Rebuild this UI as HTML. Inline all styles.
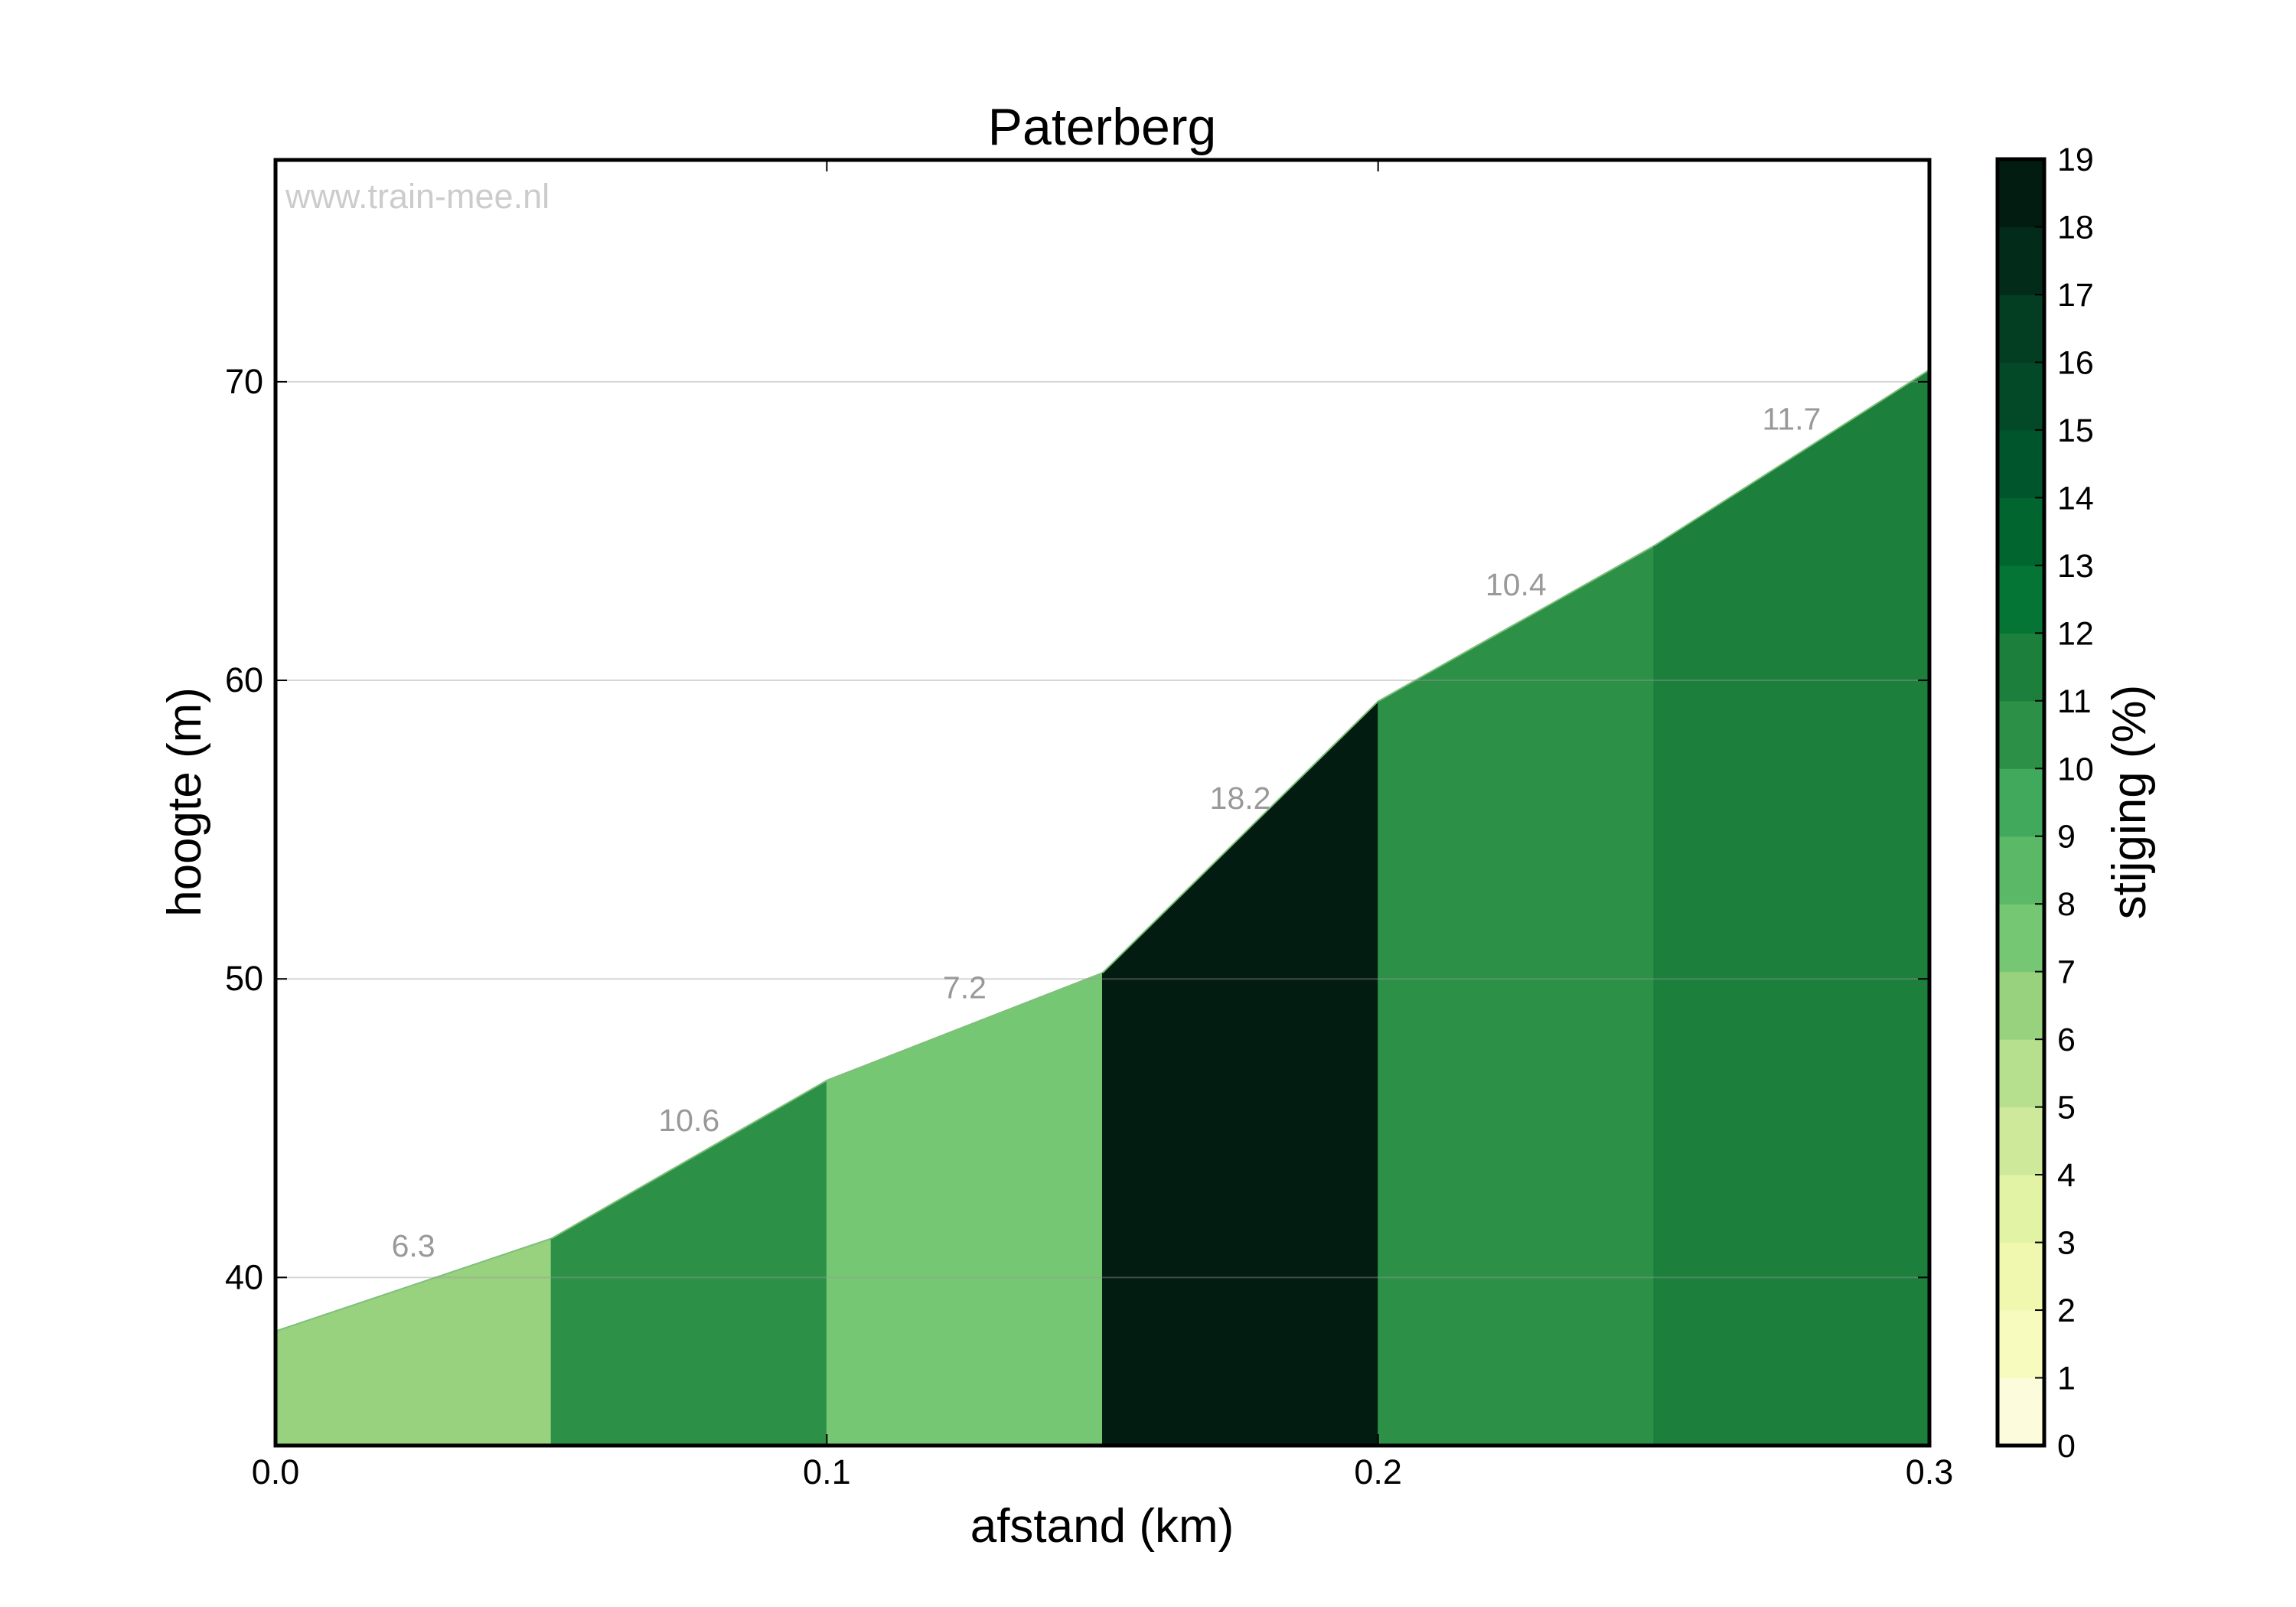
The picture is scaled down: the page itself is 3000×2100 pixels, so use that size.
<!DOCTYPE html>
<html><head><meta charset="utf-8"><style>
html,body{margin:0;padding:0;background:#fff;}
svg{display:block;font-family:"Liberation Sans",Arial,sans-serif;}
</style></head><body>
<svg id="chart" width="3000" height="2100" viewBox="0 0 3000 2100" xmlns="http://www.w3.org/2000/svg">
<rect width="3000" height="2100" fill="#fff"/>
<g id="plot"></g>
<g id="cbar"></g>
<text x="1440" y="189" font-size="68" text-anchor="middle" fill="#000">Paterberg</text>
<text x="373" y="272" font-size="45" fill="#cccccc">www.train-mee.nl</text>
<text x="1440" y="2015" font-size="62" text-anchor="middle" fill="#000">afstand (km)</text>
<text transform="translate(262,1048) rotate(-90)" font-size="62" text-anchor="middle" fill="#000">hoogte (m)</text>
<text transform="translate(2803,1048) rotate(-90)" font-size="62" text-anchor="middle" fill="#000">stijging (%)</text>
</svg>
<script>
const distances = [0, 0.05, 0.10, 0.15, 0.20, 0.25, 0.30];
const elevations = [38.2, 41.3, 46.6, 50.2, 59.3, 64.5, 70.4];
const grades = [6.3, 10.6, 7.2, 18.2, 10.4, 11.7];
const xTicks = [0, 0.1, 0.2, 0.3];
const xTickLabels = ["0.0", "0.1", "0.2", "0.3"];
const yTicks = [40, 50, 60, 70];
const yTickLabels = ["40", "50", "60", "70"];
const cbarTicks = [0,1,2,3,4,5,6,7,8,9,10,11,12,13,14,15,16,17,18,19];
const palette = ["#fcfcdc","#f7fbbd","#f0f8b0","#e3f3a5","#cfe99a","#b6df8e","#98d27e","#76c773","#5ab867","#41a95b","#2c9147","#1c7f3c","#047535","#00652f","#01552c","#034827","#033d22","#022c19","#031c12"];

const NS = "http://www.w3.org/2000/svg";
const L = 360, R = 2521, T = 209, B = 1889;
const X0 = 0, X1 = 0.3, Y0 = 34.37, Y1 = 77.43;
function xs(v){ return L + (v - X0) / (X1 - X0) * (R - L); }
function ys(v){ return B - (v - Y0) / (Y1 - Y0) * (B - T); }
function mk(tag, attrs, parent){ const e = document.createElementNS(NS, tag); for (const k in attrs) e.setAttribute(k, attrs[k]); parent.appendChild(e); return e; }
function colorFor(g){ let i = Math.floor(g); if (i < 0) i = 0; if (i > palette.length - 1) i = palette.length - 1; return palette[i]; }

const plot = document.getElementById('plot');
// segments
for (let i = 0; i < grades.length; i++) {
  const xa = xs(distances[i]), xb = xs(distances[i+1]);
  const ya = ys(elevations[i]), yb = ys(elevations[i+1]);
  const c = colorFor(grades[i]);
  const p = mk('polygon', {points: `${xa},${B} ${xa},${ya} ${xb},${yb} ${xb},${B}`, fill: c, stroke: c, 'stroke-width': 1}, plot);
  
  
  const ln = mk('line', {x1: xa, y1: ya, x2: xb, y2: yb, stroke: '#7fbf7b', 'stroke-width': 2}, plot);
  
  
}
// gridlines
for (let i = 0; i < yTicks.length; i++) {
  const y = ys(yTicks[i]);
  const g = mk('line', {x1: L, y1: y, x2: R, y2: y, stroke: '#999', 'stroke-opacity': 0.4, 'stroke-width': 2}, plot);
  
  
  for (const [x1, x2] of [[L, L+15], [R, R-15]]) {
    const t = mk('line', {x1: x1, y1: y, x2: x2, y2: y, stroke: '#000', 'stroke-width': 2}, plot);
    
    
  }
  const tl = mk('text', {x: L - 16, y: y + 15, 'font-size': 45, 'text-anchor': 'end', fill: '#000'}, plot);
  tl.textContent = yTickLabels[i];
  
  
}
// grade labels
for (let i = 0; i < grades.length; i++) {
  const xm = xs((distances[i] + distances[i+1]) / 2);
  const ym = ys((elevations[i] + elevations[i+1]) / 2);
  const t = mk('text', {x: xm, y: ym - 37, 'font-size': 41, 'text-anchor': 'middle', fill: '#999'}, plot);
  t.textContent = grades[i].toFixed(1);
  
  
}
// x ticks
for (let i = 0; i < xTicks.length; i++) {
  const x = xs(xTicks[i]);
  for (const [y1, y2] of [[B, B-15], [T, T+15]]) {
    const t = mk('line', {x1: x, y1: y1, x2: x, y2: y2, stroke: '#000', 'stroke-width': 2}, plot);
    
    
  }
  const tl = mk('text', {x: x, y: 1939, 'font-size': 45, 'text-anchor': 'middle', fill: '#000'}, plot);
  tl.textContent = xTickLabels[i];
  
  
}
const frame = mk('rect', {x: L, y: T, width: R - L, height: B - T, fill: 'none', stroke: '#000', 'stroke-width': 5}, plot);



// colorbar
const cb = document.getElementById('cbar');
const CL = 2610, CR = 2671, CT = 208, CB = 1889;
const cmax = cbarTicks[cbarTicks.length - 1];
function cy(v){ return CB - v / cmax * (CB - CT); }
for (let i = 0; i < palette.length; i++) {
  const r = mk('rect', {x: CL, y: cy(i+1), width: CR - CL, height: cy(i) - cy(i+1) + 0.5, fill: palette[i]}, cb);
  
  
}
for (let i = 0; i < cbarTicks.length; i++) {
  const y = cy(cbarTicks[i]);
  const t = mk('line', {x1: CR, y1: y, x2: CR - 12, y2: y, stroke: '#000', 'stroke-width': 2}, cb);
  
  
  const tl = mk('text', {x: 2688, y: y + 15, 'font-size': 43, fill: '#000'}, cb);
  tl.textContent = String(cbarTicks[i]);
  
  
}
const cf = mk('rect', {x: CL, y: CT, width: CR - CL, height: CB - CT, fill: 'none', stroke: '#000', 'stroke-width': 5}, cb);


</script>
</body></html>
